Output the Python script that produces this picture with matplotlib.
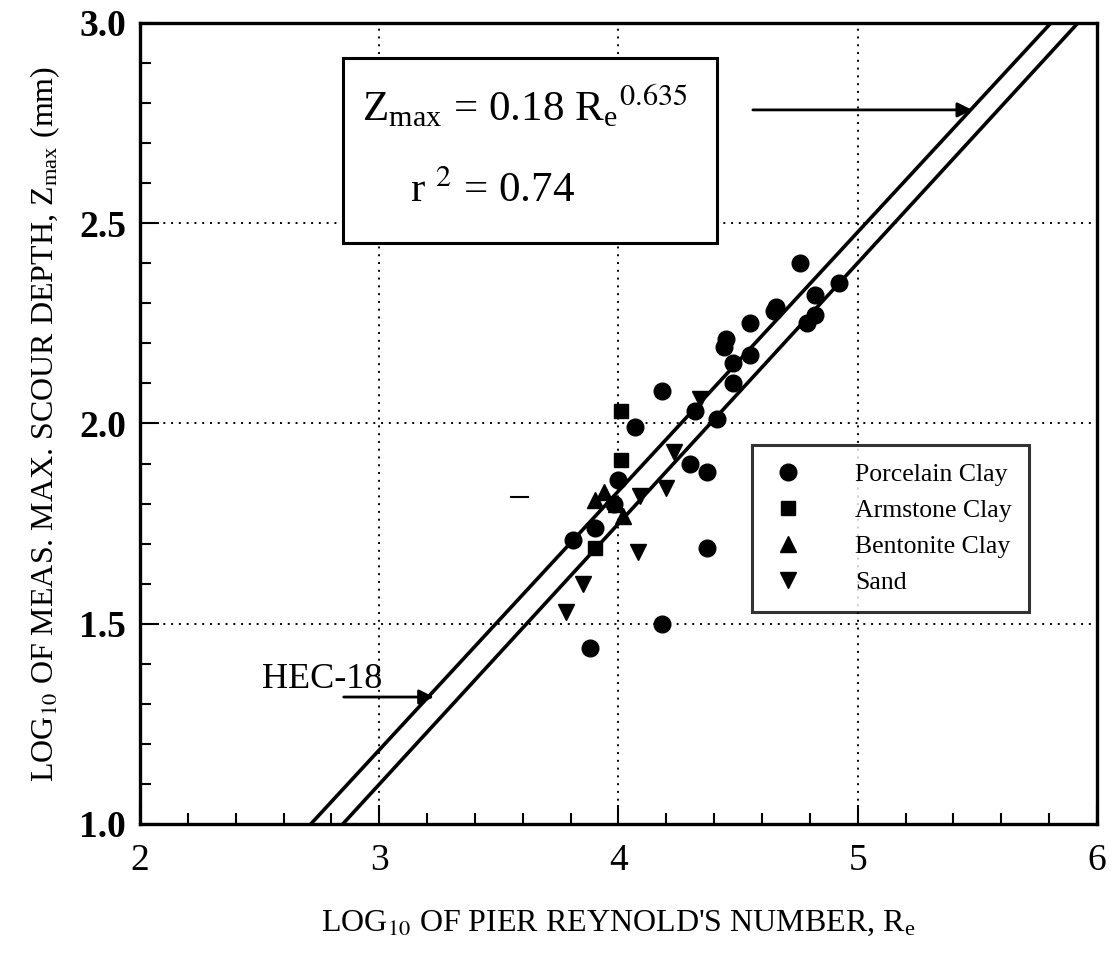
import matplotlib
matplotlib.use('Agg')
import matplotlib.pyplot as plt
import matplotlib.patches as patches
from matplotlib.ticker import MultipleLocator
import numpy as np

plt.rcParams['font.family'] = ['Liberation Serif', 'DejaVu Serif']
plt.rcParams['mathtext.fontset'] = 'stix'

# data (log10 Re, log10 Zmax)
porcelain_x = [4.76, 4.92, 4.82, 4.82, 4.79, 4.65, 4.66, 4.55, 4.45, 4.44, 4.48, 4.55,
               4.48, 4.18, 4.32, 4.41, 4.07, 4.30, 4.37, 4.00, 3.90, 3.81, 4.37, 4.18,
               3.88, 3.98]
porcelain_y = [2.40, 2.35, 2.32, 2.27, 2.25, 2.28, 2.29, 2.25, 2.21, 2.19, 2.15, 2.17,
               2.10, 2.08, 2.03, 2.01, 1.99, 1.90, 1.88, 1.86, 1.74, 1.71, 1.69, 1.50,
               1.44, 1.80]
armstone_x = [4.01, 4.01, 3.90]
armstone_y = [2.03, 1.91, 1.69]
bentonite_x = [3.90, 3.94, 3.99, 4.02]
bentonite_y = [1.81, 1.83, 1.80, 1.77]
sand_x = [4.34, 4.23, 4.20, 4.09, 4.08, 3.85, 3.78]
sand_y = [2.06, 1.93, 1.84, 1.82, 1.68, 1.60, 1.53]

# fitted lines: log Z = a + b log Re
hec18_a, hec18_b = -0.755, 0.6466
fit_a, fit_b = -0.854, 0.651

fig = plt.figure(figsize=(11.17, 9.58), dpi=100)
ax = fig.add_axes([0.1253, 0.1399, 0.8568, 0.8361])

xx = np.array([2.0, 6.0])
ax.plot(xx, hec18_a + hec18_b * xx, color='black', lw=2.6, zorder=3)
ax.plot(xx, fit_a + fit_b * xx, color='black', lw=2.6, zorder=3)

ax.plot(porcelain_x, porcelain_y, 'o', color='black', ms=12, ls='none',
        label='Porcelain Clay', zorder=4)
ax.plot(armstone_x, armstone_y, 's', color='black', ms=10, ls='none',
        label='Armstone Clay', zorder=4)
ax.plot(bentonite_x, bentonite_y, '^', color='black', ms=12, ls='none',
        label='Bentonite Clay', zorder=4)
ax.plot(sand_x, sand_y, 'v', color='black', ms=12, ls='none',
        label='Sand', zorder=4)

# stray dash in the original
ax.plot([3.55, 3.62], [1.816, 1.816], color='black', lw=1.5)

ax.set_xlim(2, 6)
ax.set_ylim(1.0, 3.0)
ax.xaxis.set_major_locator(MultipleLocator(1))
ax.xaxis.set_minor_locator(MultipleLocator(0.2))
ax.yaxis.set_major_locator(MultipleLocator(0.5))
ax.yaxis.set_minor_locator(MultipleLocator(0.1))
ax.yaxis.set_major_formatter(matplotlib.ticker.FormatStrFormatter('%.1f'))
ax.tick_params(which='both', direction='in', top=False, right=False, width=1.5)
ax.tick_params(which='major', length=14)
ax.tick_params(which='minor', length=8)
ax.tick_params(axis='x', labelsize=27, pad=14)
ax.tick_params(axis='y', labelsize=27, pad=10)
for lab in ax.get_yticklabels():
    lab.set_fontweight('bold')
for s in ax.spines.values():
    s.set_linewidth(2.4)

ax.grid(True, which='major', color='black', linestyle=(0, (1, 3)), linewidth=1.4)
ax.set_axisbelow(True)

ax.set_xlabel(r"LOG$_{10}$ OF PIER REYNOLD'S NUMBER, R$_\mathregular{e}$", fontsize=23, labelpad=22)
ax.set_ylabel(r"LOG$_{10}$ OF MEAS. MAX. SCOUR DEPTH, Z$_\mathregular{max}$ (mm)", fontsize=23, labelpad=12)

# equation box
box = patches.Rectangle((0.212, 0.725), 0.391, 0.231, transform=ax.transAxes,
                        facecolor='white', edgecolor='black', lw=2.2, zorder=5)
ax.add_patch(box)
ax.text(0.232, 0.895, r"Z$_\mathregular{max}$ = 0.18 R$_\mathregular{e}$$^{0.635}$",
        transform=ax.transAxes, fontsize=31, va='center', zorder=6)
ax.text(0.282, 0.79, r"r $^2$ = 0.74", transform=ax.transAxes, fontsize=31,
        va='center', zorder=6)
ax.annotate('', xy=(5.49, 2.783), xytext=(4.55, 2.783),
            arrowprops=dict(arrowstyle='-|>', color='black', lw=2, mutation_scale=22))

ax.annotate('', xy=(3.24, 1.317), xytext=(2.84, 1.317),
            arrowprops=dict(arrowstyle='-|>', color='black', lw=2, mutation_scale=22))
ax.text(2.51, 1.32, 'HEC-18', fontsize=26, va='bottom', ha='left')

leg = ax.legend(loc='upper left', bbox_to_anchor=(0.6395, 0.473), fontsize=18.5,
                frameon=True, fancybox=False, edgecolor='black', borderpad=0.7,
                handletextpad=1.9, labelspacing=0.5, handlelength=1.4,
                borderaxespad=0)
leg.get_frame().set_linewidth(2.2)
leg.set_zorder(6)

fig.savefig('out.png', dpi=100, facecolor='white')
